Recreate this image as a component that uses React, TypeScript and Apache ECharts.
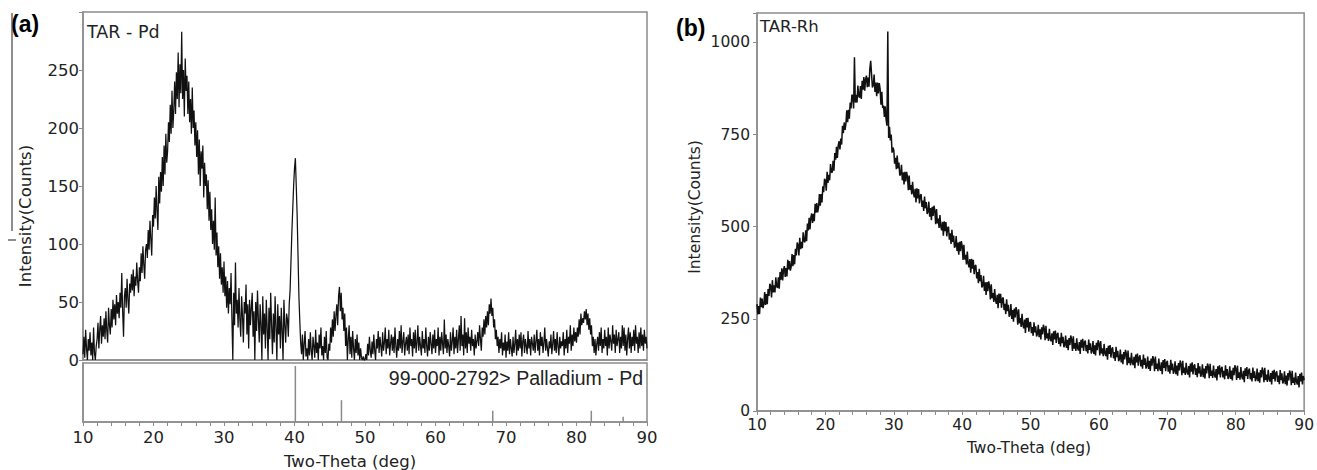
import React, { useEffect, useRef } from "react";
import * as echarts from "echarts";

// Scans start at 10 deg 2-theta, 0.125 deg steps
const SCAN_START = 10;
const SCAN_STEP = 0.125;

// Panel (a) TAR - Pd intensities (counts), one row per degree (10..89) then 90
const pdIntensity = [
  5, 20, 2, 26, 10, 0, 18, 8,
  24, 4, 15, 0, 28, 6, 0, 12,
  18, 32, 10, 26, 38, 14, 30, 20,
  36, 18, 42, 25, 15, 45, 30, 22,
  44, 28, 52, 35, 48, 30, 56, 40,
  50, 36, 58, 45, 75, 42, 20, 55,
  62, 45, 70, 52, 40, 66, 58, 74,
  60, 78, 55, 72, 64, 84, 68, 58,
  80, 68, 92, 75, 98, 82, 70, 95,
  100, 88, 112, 95, 120, 104, 90, 125,
  115, 140, 122, 150, 128, 112, 158, 135,
  162, 145, 175, 150, 185, 160, 195, 170,
  180, 205, 188, 220, 195, 232, 200, 215,
  240, 212, 248, 225, 265, 218, 255, 230,
  283, 225, 250, 210, 260, 232, 245, 212,
  240, 205, 225, 195, 235, 200, 215, 185,
  205, 175, 198, 160, 190, 150, 180, 165,
  185, 140, 170, 150, 160, 130, 155, 120,
  145, 112, 130, 100, 120, 95, 140, 90,
  110, 80, 98, 70, 92, 65, 80, 58,
  85, 55, 72, 45, 68, 40, 62, 48,
  75, 35, 0, 58, 30, 84, 40, 52,
  28, 62, 35, 20, 55, 38, 15, 50,
  40, 65, 22, 48, 10, 52, 30, 45,
  58, 20, 42, 0, 50, 25, 60, 35,
  15, 48, 30, 0, 55, 22, 40, 10,
  52, 28, 0, 45, 18, 58, 30, 5,
  40, 15, 55, 28, 0, 48, 22, 38,
  10, 45, 25, 0, 52, 30, 15, 40,
  35, 20, 48, 60, 85, 110, 130, 150,
  165, 174, 150, 125, 90, 55, 34, 15,
  5, 22, 0, 14, 25, 3, 10, 0,
  18, 4, 24, 8, 0, 20, 12, 2,
  26, 6, 15, 0, 22, 10, 28, 4,
  12, 0, 20, 6, 25, 2, 0, 14,
  8, 28, 15, 35, 20, 42, 25, 38,
  48, 30, 55, 63, 42, 58, 35, 45,
  25, 40, 12, 28, 0, 18, 30, 5,
  20, 2, 25, 10, 0, 18, 6, 22,
  4, 15, 0, 10, 2, 0, 3, 0,
  0, 5, 0, 14, 4, 20, 8, 2,
  16, 5, 22, 8, 0, 18, 10, 25,
  6, 20, 12, 3, 24, 8, 15, 28,
  5, 18, 10, 26, 4, 14, 22, 8,
  20, 6, 28, 12, 2, 18, 8, 25,
  10, 30, 6, 16, 24, 4, 14, 20,
  8, 22, 5, 28, 12, 18, 3, 24,
  10, 26, 6, 15, 30, 8, 20, 12,
  4, 25, 10, 18, 6, 28, 12, 3,
  20, 8, 24, 14, 5, 22, 10, 26,
  6, 18, 12, 28, 4, 20, 8, 24,
  14, 5, 35, 10, 22, 6, 18, 12,
  3, 24, 8, 16, 28, 5, 20, 10,
  26, 6, 18, 30, 8, 38, 12, 22,
  4, 36, 10, 24, 6, 28, 14, 20,
  8, 26, 12, 18, 4, 22, 10, 16,
  24, 12, 30, 18, 8, 28, 20, 35,
  22, 38, 28, 42, 30, 48, 40, 53,
  38, 45, 28, 35, 18, 26, 12, 20,
  6, 18, 10, 24, 4, 15, 8, 22,
  2, 16, 8, 24, 5, 18, 10, 3,
  20, 6, 14, 26, 4, 18, 8, 22,
  10, 24, 3, 16, 22, 6, 18, 12,
  5, 25, 10, 18, 4, 20, 14, 8,
  22, 6, 16, 26, 8, 18, 4, 24,
  12, 20, 6, 15, 28, 8, 18, 10,
  3, 16, 10, 22, 5, 14, 25, 8,
  18, 6, 24, 12, 4, 20, 10, 16,
  12, 24, 4, 18, 10, 26, 6, 20,
  14, 30, 8, 22, 12, 28, 16, 24,
  15, 28, 20, 35, 22, 40, 30, 36,
  32, 42, 35, 44, 30, 40, 26, 36,
  22, 30, 12, 20, 6, 18, 4, 14,
  20, 8, 24, 12, 28, 6, 18, 10,
  26, 12, 20, 4, 28, 10, 22, 16,
  8, 30, 14, 22, 6, 26, 12, 18,
  24, 6, 20, 10, 30, 12, 28, 8,
  22, 4, 18, 28, 10, 24, 6, 20,
  12, 26, 8, 30, 14, 20, 6, 24,
  10, 28, 12, 22, 8, 26, 14, 20,
  10,
];

// Panel (b) TAR-Rh intensities (counts), one row per degree (10..89) then 90
const rhIntensity = [
  290, 262, 285, 263, 308, 282, 305, 279,
  290, 323, 288, 317, 290, 331, 312, 345,
  339, 308, 355, 322, 341, 322, 363, 338,
  334, 363, 332, 377, 356, 387, 354, 383,
  393, 364, 388, 365, 410, 384, 407, 381,
  392, 426, 393, 423, 398, 440, 422, 457,
  451, 422, 470, 439, 459, 442, 485, 461,
  458, 490, 461, 509, 490, 524, 493, 525,
  536, 510, 535, 515, 562, 538, 564, 539,
  553, 589, 557, 589, 566, 610, 594, 630,
  626, 598, 649, 619, 641, 626, 670, 649,
  647, 679, 652, 700, 682, 717, 687, 720,
  732, 710, 739, 723, 774, 754, 783, 763,
  780, 816, 784, 817, 793, 837, 821, 858,
  855, 821, 960, 837, 858, 837, 883, 855,
  850, 882, 847, 896, 872, 906, 869, 900,
  910, 879, 905, 880, 929, 950, 914, 878,
  884, 913, 866, 891, 854, 891, 862, 890,
  874, 831, 866, 822, 829, 798, 827, 791,
  774, 1030, 741, 771, 734, 750, 701, 715,
  708, 671, 687, 656, 693, 658, 674, 639,
  642, 668, 626, 648, 615, 649, 623, 649,
  636, 599, 639, 600, 613, 588, 622, 591,
  580, 603, 566, 604, 577, 602, 563, 585,
  588, 554, 571, 543, 582, 550, 567, 535,
  540, 568, 527, 551, 518, 554, 529, 557,
  544, 507, 548, 509, 522, 497, 532, 501,
  490, 513, 476, 515, 488, 513, 474, 497,
  500, 465, 482, 453, 492, 459, 476, 443,
  448, 475, 434, 457, 424, 459, 434, 461,
  448, 410, 451, 411, 424, 398, 433, 401,
  390, 412, 375, 413, 386, 410, 371, 393,
  396, 360, 377, 347, 386, 352, 369, 335,
  340, 367, 326, 349, 315, 350, 325, 352,
  339, 303, 344, 306, 320, 296, 331, 301,
  291, 315, 279, 319, 293, 318, 280, 304,
  308, 274, 291, 263, 303, 271, 288, 256,
  262, 290, 250, 274, 242, 278, 254, 282,
  270, 234, 276, 238, 252, 228, 264, 234,
  224, 248, 212, 252, 227, 253, 215, 239,
  241, 211, 228, 204, 241, 213, 230, 202,
  208, 234, 200, 222, 194, 227, 208, 234,
  224, 192, 231, 197, 211, 190, 223, 197,
  189, 211, 179, 216, 194, 218, 185, 208,
  212, 182, 199, 175, 212, 184, 201, 173,
  179, 205, 171, 193, 165, 198, 179, 205,
  195, 163, 203, 169, 184, 163, 197, 171,
  164, 187, 155, 193, 172, 196, 163, 187,
  191, 162, 179, 156, 194, 166, 184, 156,
  163, 190, 155, 178, 151, 185, 165, 192,
  183, 151, 190, 156, 170, 149, 182, 156,
  149, 171, 139, 177, 155, 179, 145, 168,
  173, 143, 160, 136, 174, 146, 163, 135,
  141, 167, 132, 154, 127, 160, 140, 166,
  156, 124, 164, 130, 145, 124, 158, 132,
  125, 147, 116, 153, 132, 156, 123, 146,
  151, 121, 139, 115, 153, 125, 143, 115,
  122, 148, 114, 136, 109, 142, 123, 149,
  140, 108, 148, 114, 129, 108, 142, 116,
  109, 132, 100, 138, 117, 141, 108, 131,
  136, 107, 124, 101, 139, 111, 129, 101,
  108, 135, 100, 123, 96, 130, 110, 137,
  128, 97, 136, 103, 118, 98, 131, 106,
  99, 122, 91, 129, 107, 132, 99, 122,
  127, 98, 116, 92, 130, 102, 121, 93,
  100, 127, 92, 115, 88, 122, 102, 129,
  120, 89, 128, 95, 110, 90, 123, 98,
  91, 114, 83, 121, 99, 124, 91, 115,
  120, 91, 109, 86, 124, 96, 114, 87,
  94, 121, 87, 110, 83, 117, 97, 124,
  115, 84, 123, 90, 105, 85, 119, 94,
  86, 109, 78, 116, 95, 119, 87, 110,
  115, 86, 103, 80, 118, 90, 108, 81,
  88, 115, 81, 104, 77, 111, 91, 118,
  109, 78, 117, 84, 99, 79, 112, 87,
  80, 103, 72, 109, 87, 112, 80, 103,
  108, 79, 96, 73, 111, 84, 102, 75,
  81, 108, 73, 96, 69, 103, 83, 110,
  101, 70, 109, 76, 91, 71, 104, 80,
  72, 95, 64, 101, 80, 104, 72, 95,
  84,
];

// Reference pattern 99-000-2792 Palladium - Pd (relative intensity)
const pdRefAngle = [40.12, 46.66, 68.12, 82.1, 86.62];
const pdRefIntensity = [95, 37, 19, 19, 9];

// Axis ranges / ticks
const X_MIN = 10;
const X_MAX = 90;
const X_INTERVAL = 10;
const PD_Y_MAX = 300;
const PD_Y_INTERVAL = 50;
const PD_Y_LAST_LABEL = 250;
const RH_Y_MAX = 1080;
const RH_Y_INTERVAL = 250;

const toPairs = (arr: number[]) => arr.map((v, i) => [SCAN_START + i * SCAN_STEP, v]);

const GRAY = "#8c8c8c";
const FONT = '"DejaVu Sans", sans-serif';
const ARIAL = '"Liberation Sans", Arial, sans-serif';
const TXT = "#222";

export default function App() {
  const ref = useRef<HTMLDivElement>(null);

  useEffect(() => {
    if (!ref.current) return;
    const chart = echarts.init(ref.current, undefined, { renderer: "svg" });

    const xBase = (gridIndex: number, showLabels: boolean, fontSize: number, margin: number) => ({
      type: "value",
      gridIndex,
      min: X_MIN,
      max: X_MAX,
      interval: X_INTERVAL,
      axisLine: { show: true, onZero: false, lineStyle: { color: GRAY, width: 1.5 } },
      axisTick: { show: showLabels, length: 4, lineStyle: { color: GRAY, width: 1 } },
      minorTick: { show: showLabels, splitNumber: 5, length: 4, lineStyle: { color: GRAY, width: 1 } },
      axisLabel: { show: showLabels, fontSize, fontFamily: FONT, color: TXT, margin },
      splitLine: { show: false },
      minorSplitLine: { show: false },
    });

    const option: any = {
      animation: false,
      backgroundColor: "#ffffff",
      grid: [
        { left: 83, top: 12, width: 564, height: 348, show: true, borderColor: GRAY, borderWidth: 1.5 },
        { left: 83, top: 363, width: 564, height: 59, show: true, borderColor: GRAY, borderWidth: 1.5 },
        { left: 757, top: 13, width: 548, height: 398, show: true, borderColor: GRAY, borderWidth: 1.5 },
      ],
      xAxis: [xBase(0, false, 16.5, 7), xBase(1, true, 16.5, 7), xBase(2, true, 15.5, 6)],
      yAxis: [
        {
          type: "value",
          gridIndex: 0,
          min: 0,
          max: PD_Y_MAX,
          interval: PD_Y_INTERVAL,
          axisLine: { show: true, onZero: false, lineStyle: { color: GRAY, width: 1.5 } },
          axisTick: { show: true, length: 4, lineStyle: { color: GRAY } },
          axisLabel: {
            fontSize: 16.5,
            fontFamily: FONT,
            color: TXT,
            margin: 4,
            formatter: (v: number) => (v <= PD_Y_LAST_LABEL ? String(v) : ""),
          },
          splitLine: { show: false },
        },
        {
          type: "value",
          gridIndex: 1,
          min: 0,
          max: 100,
          axisLine: { show: true, onZero: false, lineStyle: { color: GRAY, width: 1.5 } },
          axisTick: { show: false },
          axisLabel: { show: false },
          splitLine: { show: false },
        },
        {
          type: "value",
          gridIndex: 2,
          min: 0,
          max: RH_Y_MAX,
          interval: RH_Y_INTERVAL,
          axisLine: { show: true, onZero: false, lineStyle: { color: GRAY, width: 1.5 } },
          axisTick: { show: true, length: 4, lineStyle: { color: GRAY } },
          axisLabel: {
            fontSize: 15.5,
            fontFamily: FONT,
            color: TXT,
            margin: 7,
            formatter: (v: number) => (v % RH_Y_INTERVAL === 0 ? String(v) : ""),
          },
          splitLine: { show: false },
        },
      ],
      series: [
        {
          name: "TAR - Pd",
          type: "line",
          xAxisIndex: 0,
          yAxisIndex: 0,
          data: toPairs(pdIntensity),
          showSymbol: false,
          symbol: "none",
          clip: true,
          lineStyle: { color: "#111", width: 1.25 },
          z: 3,
        },
        {
          name: "99-000-2792> Palladium - Pd",
          type: "bar",
          xAxisIndex: 1,
          yAxisIndex: 1,
          data: pdRefAngle.map((a, i) => [a, pdRefIntensity[i]]),
          barWidth: 1.5,
          itemStyle: { color: "#8a8a8a" },
        },
        {
          name: "TAR-Rh",
          type: "line",
          xAxisIndex: 2,
          yAxisIndex: 2,
          data: toPairs(rhIntensity),
          showSymbol: false,
          symbol: "none",
          clip: true,
          lineStyle: { color: "#111", width: 1.5 },
          z: 3,
        },
      ],
      graphic: [
        { type: "text", x: 11, y: 24, style: { text: "(a)", font: `bold 23px ${ARIAL}`, fill: "#000", verticalAlign: "middle" } },
        { type: "text", x: 676, y: 28, style: { text: "(b)", font: `bold 23px ${ARIAL}`, fill: "#000", verticalAlign: "middle" } },
        { type: "text", x: 87, y: 32, style: { text: "TAR - Pd", font: `17.5px ${FONT}`, fill: TXT, verticalAlign: "middle" } },
        { type: "text", x: 760, y: 26, style: { text: "TAR-Rh", font: `16.5px ${FONT}`, fill: TXT, verticalAlign: "middle" } },
        {
          type: "text",
          x: 643,
          y: 378,
          style: { text: "99-000-2792> Palladium - Pd", font: `19.5px ${ARIAL}`, fill: TXT, align: "right", verticalAlign: "middle" },
        },
        {
          type: "text",
          x: 25,
          y: 216,
          rotation: Math.PI / 2,
          style: { text: "Intensity(Counts)", font: `16.5px ${FONT}`, fill: TXT, align: "center", verticalAlign: "middle" },
        },
        {
          type: "text",
          x: 695,
          y: 207,
          rotation: Math.PI / 2,
          style: { text: "Intensity(Counts)", font: `15.5px ${FONT}`, fill: TXT, align: "center", verticalAlign: "middle" },
        },
        {
          type: "text",
          x: 350,
          y: 461,
          style: { text: "Two-Theta (deg)", font: `16.5px ${FONT}`, fill: TXT, align: "center", verticalAlign: "middle" },
        },
        {
          type: "text",
          x: 1029,
          y: 448,
          style: { text: "Two-Theta (deg)", font: `15.5px ${FONT}`, fill: TXT, align: "center", verticalAlign: "middle" },
        },
        { type: "line", shape: { x1: 12, y1: 13, x2: 12, y2: 231 }, style: { stroke: "#444", lineWidth: 1.2 } },
        { type: "line", shape: { x1: 8, y1: 240, x2: 16, y2: 240 }, style: { stroke: "#444", lineWidth: 1.2 } },
      ],
    };

    chart.setOption(option);
    return () => {
      chart.dispose();
    };
  }, []);

  return (
    <div
      ref={ref}
      style={{ position: "fixed", left: 0, top: 0, width: 1317, height: 470, background: "#fff" }}
    />
  );
}
